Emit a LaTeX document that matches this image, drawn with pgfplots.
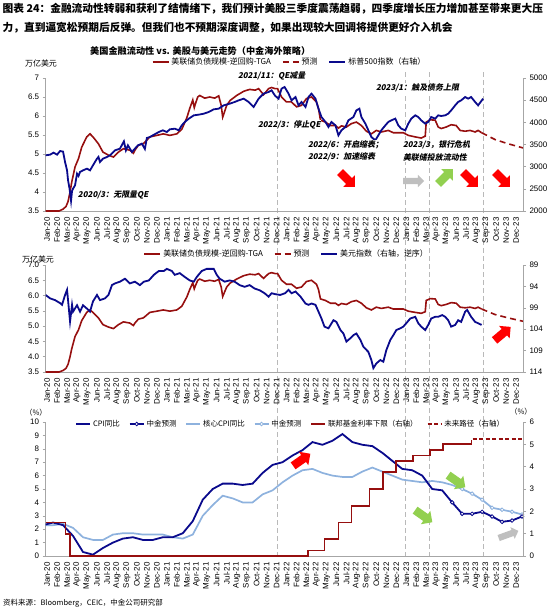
\documentclass[border=0pt]{standalone}
\usepackage{pgfplots}
\pgfplotsset{compat=1.18}
\usepackage{pgfplotstable}
\usetikzlibrary{shapes.arrows}
\usepackage{fontspec}
\setmainfont{Liberation Sans}
\newfontfamily\cjk{Noto Sans CJK SC}
\newfontfamily\cjkit[FakeSlant=0.2]{Noto Sans CJK SC}

\definecolor{lqred}{RGB}{150,15,15}
\definecolor{navy}{RGB}{10,10,140}
\definecolor{coreblue}{RGB}{142,178,222}
\definecolor{arrred}{RGB}{255,0,0}
\definecolor{arrgreen}{RGB}{146,208,80}
\definecolor{arrgrey}{RGB}{191,191,191}
\definecolor{axgrey}{RGB}{166,166,166}

% Fed liquidity: balance sheet - reverse repo - TGA (trillion USD), x = months since Jan-20
\pgfplotstableread{
x y
-0.15 3.50
0.50 3.50
1.20 3.50
1.60 3.55
1.90 3.62
2.10 3.75
2.30 4.00
2.47 4.26
2.80 4.66
3.15 4.88
3.47 5.18
3.97 5.45
4.30 5.53
4.60 5.45
5.14 5.27
5.60 5.05
6.15 4.97
6.65 4.92
7.15 5.05
7.65 5.14
8.30 5.10
8.65 5.02
8.80 5.10
9.15 5.23
9.65 5.27
10.30 5.45
11.00 5.49
11.65 5.53
12.30 5.49
13.00 5.53
13.50 5.65
14.00 5.95
14.30 6.20
14.60 6.42
14.75 6.22
14.90 6.35
15.10 6.50
15.30 6.54
15.80 6.47
16.30 6.50
16.80 6.47
17.20 6.53
17.45 6.28
17.60 5.97
18.00 6.28
18.35 6.41
19.00 6.54
19.70 6.65
20.30 6.70
20.85 6.68
21.20 6.72
21.70 6.56
22.20 6.72
22.50 6.75
22.85 6.72
23.10 6.72
23.50 6.50
24.00 6.37
24.50 6.37
25.00 6.24
25.50 6.28
26.00 6.46
26.50 6.50
27.00 6.37
27.20 6.20
27.40 5.89
27.90 5.84
28.40 5.75
28.90 5.75
29.20 5.68
29.50 5.74
30.00 5.71
30.50 5.80
31.00 5.84
31.50 5.75
32.00 5.60
32.50 5.53
33.00 5.62
33.50 5.58
34.20 5.62
34.70 5.56
35.20 5.56
35.70 5.56
36.20 5.49
36.90 5.45
37.50 5.42
37.90 5.47
38.00 5.84
38.40 5.90
38.90 5.89
39.20 5.71
39.50 5.67
40.00 5.71
40.50 5.77
41.00 5.75
41.40 5.62
41.90 5.60
42.40 5.62
42.90 5.58
43.20 5.62
43.55 5.56
}\liquidity

\pgfplotstableread{
x y
43.55 5.56
44.00 5.50
44.90 5.38
46.20 5.27
47.70 5.16
}\liqforecast

% S&P 500 index
\pgfplotstableread{
x y
-0.15 3256
0.30 3271
0.65 3316
1.00 3271
1.30 3353
1.60 3340
1.80 3105
2.00 2917
2.10 2692
2.25 2504
2.40 2230
2.50 2450
2.60 2504
2.80 2579
3.00 2842
3.15 2790
3.30 2880
3.60 2917
4.00 2955
4.30 2917
4.60 3030
5.00 3180
5.15 3220
5.30 3105
5.60 3180
6.00 3218
6.30 3256
6.80 3368
7.30 3406
7.70 3571
7.90 3368
8.10 3481
8.50 3331
8.80 3406
9.10 3481
9.50 3519
9.80 3400
10.00 3647
10.30 3669
10.60 3707
11.20 3782
11.60 3820
12.00 3782
12.30 3842
12.80 3857
13.20 3820
13.50 3932
13.80 4008
14.20 4083
14.70 4158
15.20 4173
15.70 4195
16.20 4233
16.70 4293
17.20 4308
17.70 4383
18.30 4421
18.80 4459
19.20 4496
19.70 4534
20.20 4459
20.70 4346
21.20 4534
21.70 4647
22.20 4684
22.50 4722
22.85 4600
23.20 4534
23.50 4760
23.80 4797
24.20 4647
24.50 4496
24.90 4571
25.20 4383
25.50 4459
25.90 4346
26.20 4571
26.50 4647
26.90 4534
27.20 4308
27.50 4120
27.90 4008
28.20 3895
28.50 4008
28.90 3932
29.20 3707
29.50 3820
29.90 3895
30.20 4045
30.70 4120
31.00 4270
31.30 4308
31.50 4120
31.90 3970
32.20 3820
32.50 3669
32.90 3594
33.20 3707
33.50 3820
33.90 3932
34.20 4008
34.50 4045
34.90 4083
35.20 3932
35.50 3857
35.90 3820
36.20 3970
36.50 4083
36.90 4158
37.20 4120
37.50 4045
37.90 3970
38.20 4008
38.50 4120
38.90 4083
39.20 4158
39.50 4143
39.90 4158
40.20 4195
40.50 4270
40.90 4383
41.20 4459
41.50 4496
41.90 4571
42.20 4534
42.50 4571
42.90 4459
43.20 4383
43.45 4459
43.70 4534
}\spx

% US dollar index
\pgfplotstableread{
x y
-0.15 96.0
0.30 96.8
0.80 97.2
1.30 97.9
1.50 98.3
1.80 96.0
2.00 94.8
2.10 97.2
2.30 102.2
2.50 98.3
2.60 99.9
3.00 98.4
3.30 99.9
3.60 98.4
4.00 99.2
4.30 99.9
4.60 97.5
5.00 96.0
5.30 97.2
5.80 96.8
6.15 96.0
6.50 93.7
6.80 93.3
7.30 92.9
7.80 92.2
8.30 93.3
8.80 92.9
9.30 93.7
9.70 92.9
10.20 92.6
10.70 91.3
11.20 90.4
11.70 90.4
12.00 89.9
12.50 90.4
12.80 91.3
13.30 90.9
13.80 91.8
14.30 92.6
14.70 92.9
15.00 91.8
15.50 90.4
16.00 89.9
16.70 89.9
17.00 91.3
17.30 92.2
17.80 92.9
18.30 92.6
18.80 92.9
19.30 93.7
19.80 94.1
20.30 93.7
20.80 94.5
21.30 94.9
21.80 95.6
22.20 96.4
22.50 95.6
22.85 95.8
23.35 96.0
23.85 95.6
24.20 94.8
24.50 95.6
24.90 95.2
25.40 96.4
25.90 98.0
26.20 98.3
26.50 98.0
26.90 98.3
27.20 99.9
27.50 101.5
27.80 103.4
28.20 103.8
28.70 101.9
29.00 102.3
29.40 104.2
29.70 105.0
30.00 106.9
30.40 106.1
30.70 105.4
31.00 105.0
31.40 106.5
31.70 108.1
32.20 109.3
32.50 111.2
32.70 113.1
33.00 112.0
33.40 111.2
33.70 111.6
34.00 108.9
34.40 106.5
34.70 105.4
35.00 104.2
35.40 103.8
35.70 103.4
36.00 102.6
36.40 101.5
36.90 101.1
37.20 102.6
37.50 103.4
37.90 104.2
38.20 103.0
38.50 101.5
38.90 101.1
39.20 101.1
39.60 100.7
39.90 101.1
40.20 101.9
40.50 103.4
40.90 103.0
41.20 101.9
41.50 102.3
41.90 99.9
42.10 99.5
42.50 101.1
42.90 102.3
43.20 102.6
43.55 103.0
}\dxy

% CPI and core CPI, % y/y (monthly)
\pgfplotstableread{
x y
-0.4 2.3
0.6 2.5
1.6 2.3
2.6 1.5
3.6 0.3
4.6 0.1
5.6 0.6
6.6 1.0
7.6 1.3
8.6 1.4
9.6 1.2
10.6 1.2
11.6 1.4
12.6 1.4
13.6 1.7
14.6 2.6
15.6 4.2
16.6 5.0
17.6 5.4
18.6 5.4
19.6 5.3
20.6 5.4
21.6 6.2
22.6 6.8
23.6 7.0
24.6 7.5
25.6 7.9
26.6 8.5
27.6 8.3
28.6 8.6
29.6 9.1
30.6 8.5
31.6 8.3
32.6 8.2
33.6 7.7
34.6 7.1
35.6 6.5
36.6 6.4
37.6 6.0
38.6 5.0
39.6 4.9
40.6 4.0
}\cpi

\pgfplotstableread{
x y
40.6 4.0
41.6 3.15
42.6 3.15
43.6 3.3
44.6 2.95
45.6 2.55
46.6 2.65
47.6 2.95
}\cpifc

\pgfplotstableread{
x y
-0.4 2.3
0.6 2.3
1.6 2.4
2.6 2.1
3.6 1.4
4.6 1.2
5.6 1.2
6.6 1.6
7.6 1.7
8.6 1.7
9.6 1.6
10.6 1.6
11.6 1.6
12.6 1.4
13.6 1.3
14.6 1.6
15.6 3.0
16.6 3.8
17.6 4.5
18.6 4.3
19.6 4.0
20.6 4.0
21.6 4.6
22.6 4.9
23.6 5.5
24.6 6.0
25.6 6.4
26.6 6.5
27.6 6.2
28.6 6.0
29.6 5.9
30.6 5.9
31.6 6.3
32.6 6.6
33.6 6.3
34.6 6.0
35.6 5.7
36.6 5.6
37.6 5.5
38.6 5.6
39.6 5.5
40.6 5.3
}\core

\pgfplotstableread{
x y
40.6 5.3
41.6 5.0
42.6 4.65
43.6 4.2
44.6 3.6
45.6 3.45
46.6 3.3
47.6 3.1
}\corefc

% Fed funds target range, lower bound (%)
\pgfplotstableread{
x y
-0.15 1.5
1.85 1.0
2.30 0
26.15 0.25
27.80 0.75
29.20 1.5
30.50 2.25
32.30 3.0
33.70 3.75
34.95 4.25
36.70 4.5
38.40 4.75
39.70 5.0
42.55 5.0
}\fedfunds

\pgfplotstableread{
x y
42.55 5.0
42.55 5.25
47.60 5.25
}\fedpath

\pgfplotsset{
  panel/.style={
    scale only axis, width=477.4bp, xmin=-0.15, xmax=47.7,
    /pgf/number format/assume math mode=true,
    tick label style={font=\fontsize{8}{9}\selectfont, text=black},
    axis line style={axgrey, line width=0.6bp},
    tick style={axgrey, line width=0.6bp},
    major tick length=3bp, tick align=outside,
    scaled y ticks=false,
    legend image code/.code={\draw[mark repeat=2,mark phase=2] plot coordinates {(0bp,0bp) (8bp,0bp) (16bp,0bp)};},
  },
  leftpanel/.style={
    panel, axis x line*=bottom, axis y line*=left,
    xtick={0,...,47},
    xticklabels={Jan-20,Feb-20,Mar-20,Apr-20,May-20,Jun-20,Jul-20,Aug-20,Sep-20,Oct-20,Nov-20,Dec-20,
                 Jan-21,Feb-21,Mar-21,Apr-21,May-21,Jun-21,Jul-21,Aug-21,Sep-21,Oct-21,Nov-21,Dec-21,
                 Jan-22,Feb-22,Mar-22,Apr-22,May-22,Jun-22,Jul-22,Aug-22,Sep-22,Oct-22,Nov-22,Dec-22,
                 Jan-23,Feb-23,Mar-23,Apr-23,May-23,Jun-23,Jul-23,Aug-23,Sep-23,Oct-23,Nov-23,Dec-23},
    x tick label style={rotate=90, anchor=east, font=\fontsize{8}{9}\selectfont},
    xtick style={draw=none},
  },
  rightpanel/.style={panel, axis x line=none, axis y line*=right, xtick=\empty},
  toplegend/.style={legend style={draw=none, fill=none, inner sep=0pt,
      font=\cjk\fontsize{8}{9}\selectfont, legend columns=-1,
      /tikz/every even column/.append style={column sep=9bp}}},
  liqline/.style={lqred, line width=1.6bp},
  liqfc/.style={lqred, line width=1.6bp, dash pattern=on 6bp off 4bp},
}

\tikzset{
  % block arrows: body thickness from text height+depth, head flares out beyond it
  blockarrow/.style={single arrow, draw=none, inner sep=0pt, text width=0pt,
    text height=4bp, text depth=4bp, single arrow head extend=4bp, minimum height=21bp},
  flatarrow/.style={single arrow, draw=none, inner sep=0pt, text width=0pt,
    text height=3bp, text depth=3bp, single arrow head extend=3bp, minimum height=21bp},
  note/.style={font=\cjkit\bfseries\fontsize{8}{9.5}\selectfont, fill=white, inner sep=0.8bp, anchor=west, align=left},
}

\begin{document}
\begin{tikzpicture}
\path[use as bounding box] (0bp,0bp) rectangle (550bp,-611bp);

% event markers across the three panels
\begin{scope}[x=1bp,y=-1bp]
  \foreach \xv in {277.1,405.3,429.7,483.6}
    \draw[gray!55, line width=1bp, dash pattern=on 5bp off 3bp] (\xv,72) -- (\xv,557);
\end{scope}

% ---------- panel 1: liquidity vs S&P 500 ----------
\begin{axis}[leftpanel, at={(45.6bp,-78bp)}, anchor=north west, height=133bp,
  ymin=3.5, ymax=7, ytick={3.5,4,...,7}]
  \addplot[liqline] table[x=x,y=y]{\liquidity};
  \addplot[liqfc] table[x=x,y=y]{\liqforecast};
\end{axis}
\begin{axis}[rightpanel, at={(45.6bp,-78bp)}, anchor=north west, height=133bp,
  ymin=2000, ymax=5000, ytick={2000,2500,...,5000},
  /pgf/number format/1000 sep={},
  toplegend, legend style={at={(0.222,1.12)}, anchor=west}]
  \addlegendimage{liqline}\addlegendentry{美联储负债规模-逆回购-TGA}
  \addlegendimage{liqfc}\addlegendentry{预测}
  \addlegendimage{navy, line width=1.8bp}\addlegendentry{标普500指数（右轴）}
  \addplot[navy, line width=1.8bp, forget plot] table[x=x,y=y]{\spx};
\end{axis}

% ---------- panel 2: liquidity vs US dollar index ----------
\begin{axis}[leftpanel, at={(45.6bp,-265bp)}, anchor=north west, height=107bp,
  ymin=3.5, ymax=7, ytick={3.5,4,...,7},
  yticklabel style={/pgf/number format/fixed, /pgf/number format/fixed zerofill, /pgf/number format/precision=1}]
  \addplot[liqline] table[x=x,y=y]{\liquidity};
  \addplot[liqfc] table[x=x,y=y]{\liqforecast};
\end{axis}
\begin{axis}[rightpanel, at={(45.6bp,-265bp)}, anchor=north west, height=107bp,
  ymin=89, ymax=114, y dir=reverse, ytick={89,94,...,114},
  toplegend, legend style={at={(0.205,1.103)}, anchor=west}]
  \addlegendimage{liqline}\addlegendentry{美联储负债规模-逆回购-TGA}
  \addlegendimage{liqfc}\addlegendentry{预测}
  \addlegendimage{navy, line width=1.8bp}\addlegendentry{美元指数（右轴，逆序）}
  \addplot[navy, line width=1.8bp, forget plot] table[x=x,y=y]{\dxy};
\end{axis}

% ---------- panel 3: inflation and policy rate ----------
\begin{axis}[leftpanel, at={(45.6bp,-422bp)}, anchor=north west, height=134bp,
  ymin=0, ymax=10, ytick={0,1,...,10}]
  \addplot[coreblue, line width=1.7bp] table[x=x,y=y]{\core};
  \addplot[coreblue, line width=1.7bp, mark=*, mark size=1.8bp, mark indices={2,...,8},
    mark options={fill=white, draw=coreblue, line width=0.8bp}] table[x=x,y=y]{\corefc};
  \addplot[navy, line width=1.8bp] table[x=x,y=y]{\cpi};
  \addplot[navy, line width=1.8bp, mark=*, mark size=1.8bp,
    mark options={fill=white, draw=navy, line width=0.8bp}] table[x=x,y=y]{\cpifc};
\end{axis}
\begin{axis}[rightpanel, at={(45.6bp,-422bp)}, anchor=north west, height=134bp,
  ymin=0, ymax=6, ytick={0,1,...,6},
  legend image code/.code={\draw[mark repeat=2,mark phase=2] plot coordinates {(0bp,0bp) (7bp,0bp) (14bp,0bp)};},
  legend style={draw=none, fill=none, inner sep=0pt, font=\cjk\fontsize{7.5}{9}\selectfont,
    legend columns=-1, /tikz/every even column/.append style={column sep=7bp},
    at={(0.062,0.985)}, anchor=west}]
  \addlegendimage{navy, line width=1.8bp}\addlegendentry{CPI同比}
  \addlegendimage{navy, line width=1.8bp, mark=*, mark size=1.8bp, mark options={fill=white, draw=navy, line width=0.8bp}}\addlegendentry{中金预测}
  \addlegendimage{coreblue, line width=1.7bp}\addlegendentry{核心CPI同比}
  \addlegendimage{coreblue, line width=1.7bp, mark=*, mark size=1.8bp, mark options={fill=white, draw=coreblue, line width=0.8bp}}\addlegendentry{中金预测}
  \addlegendimage{lqred, line width=1.7bp}\addlegendentry{联邦基金利率下限（右轴）}
  \addlegendimage{lqred, line width=1.7bp, dash pattern=on 4bp off 2.5bp}\addlegendentry{未来路径（右轴）}
  \addplot[lqred, line width=1.7bp, const plot, forget plot] table[x=x,y=y]{\fedfunds};
  \addplot[lqred, line width=1.7bp, dash pattern=on 4bp off 2.5bp, forget plot] table[x=x,y=y]{\fedpath};
\end{axis}

% ---------- titles, units, notes, arrows ----------
\begin{scope}[x=1bp,y=-1bp]
  \node[anchor=west, inner sep=0pt, font=\cjk\bfseries\fontsize{10.75}{12}\selectfont] at (2.5,9)
    {图表 24：金融流动性转弱和获利了结情绪下，我们预计美股三季度震荡趋弱，四季度增长压力增加甚至带来更大压};
  \node[anchor=west, inner sep=0pt, font=\cjk\bfseries\fontsize{10.75}{12}\selectfont] at (2.5,27.5)
    {力，直到逼宽松预期后反弹。但我们也不预期深度调整，如果出现较大回调将提供更好介入机会};
  \node[anchor=west, inner sep=0pt, font=\cjk\bfseries\fontsize{9.2}{11}\selectfont] at (90,51)
    {美国金融流动性 vs. 美股与美元走势（中金海外策略）};

  \node[font=\cjk\fontsize{8}{9}\selectfont, inner sep=0pt] at (41,63) {万亿美元};
  \node[font=\cjk\fontsize{8}{9}\selectfont, inner sep=0pt] at (38,259) {万亿美元};
  \node[font=\cjk\fontsize{7.5}{9}\selectfont, inner sep=0pt] at (36,413) {（\%）};
  \node[font=\cjk\fontsize{7.5}{9}\selectfont, inner sep=0pt] at (521,412) {（\%）};

  \node[note] at (237,76) {2021/11：QE减量};
  \node[note] at (257,125) {2022/3：停止QE};
  \node[note] at (375,88) {2023/1：触及债务上限};
  \node[note] at (307,145) {2022/6：开启缩表；};
  \node[note] at (307,157) {2022/9：加速缩表};
  \node[note] at (402,145) {2023/3，银行危机};
  \node[note] at (402,157) {美联储投放流动性};
  \node[note, fill=none] at (77,195) {2020/3：无限量QE};

  \node[blockarrow, fill=arrred, rotate=-45] at (346,178) {};
  \node[flatarrow, fill=arrgrey] at (412,181) {};
  \node[blockarrow, fill=arrgreen, rotate=45] at (444,178) {};
  \node[blockarrow, fill=arrred, rotate=-45] at (469,178) {};
  \node[blockarrow, fill=arrred, rotate=-45] at (501,178) {};

  \node[blockarrow, fill=arrred, rotate=40] at (501,335) {};

  \node[blockarrow, fill=arrred, rotate=35] at (300,461) {};
  \node[blockarrow, fill=arrgreen, rotate=-35] at (422,515) {};
  \node[blockarrow, fill=arrgreen, rotate=-35] at (455,480) {};
  \node[flatarrow, fill=arrgrey, rotate=20] at (507,535) {};

  \node[anchor=west, inner sep=0pt, font=\cjk\fontsize{7.5}{9}\selectfont] at (3,603)
    {资料来源：Bloomberg，CEIC，中金公司研究部};
\end{scope}
\end{tikzpicture}
\end{document}
